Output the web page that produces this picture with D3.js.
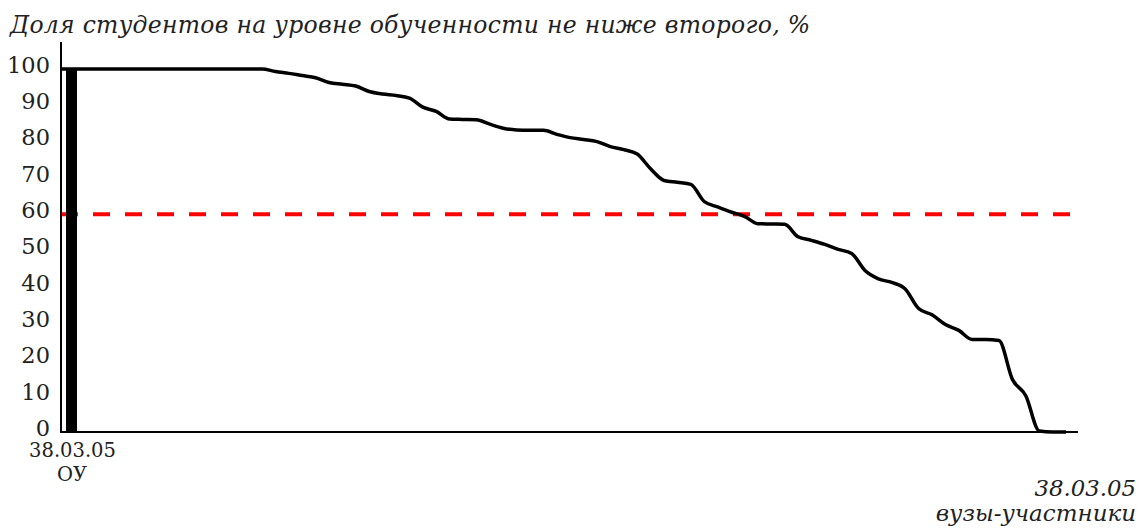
<!DOCTYPE html>
<html>
<head>
<meta charset="utf-8">
<script src="https://cdn.jsdelivr.net/npm/d3@7"></script>
<style>
  html, body { margin: 0; padding: 0; background: #fff; }
  svg { display: block; }
  text { font-family: "DejaVu Serif"; fill: #222; }
</style>
</head>
<body>
<svg id="chart" width="1139" height="530"></svg>
<script>
// ---- data ----
const titleText = "Доля студентов на уровне обученности не ниже второго, %";
const barCategories = ["ОУ"];
const barValues = [100];
const threshold = 60;
const yTicks = [0, 10, 20, 30, 40, 50, 60, 70, 80, 90, 100];
const leftLabel = ["38.03.05", "ОУ"];
const rightLabel = ["38.03.05", "вузы-участники"];
// sorted share per participating university (index order)
const universityValues = [
  100, 100, 100, 100, 100, 100, 100, 100, 100, 100,
  100, 100, 100, 100, 100, 100, 99.3, 98.8, 98.2, 97.6,
  96.3, 95.8, 95.3, 93.8, 93.1, 92.7, 92.0, 89.5, 88.3, 86.2,
  86.1, 86.0, 84.8, 83.7, 83.2, 83.1, 83.1, 82.0, 81.1, 80.6,
  80.0, 78.6, 77.8, 76.6, 72.5, 69.3, 68.8, 68.2, 63.5, 62.0,
  60.6, 59.4, 57.4, 57.3, 57.2, 53.8, 52.8, 51.7, 50.3, 49.2,
  44.5, 42.2, 41.2, 39.4, 34.0, 32.3, 29.6, 28.0, 25.5, 25.5,
  25.2, 14.5, 10.0, 0.3, 0, 0
];

// ---- layout ----
const svg = d3.select("#chart");
const axisX = 61, axisBottom = 432, axisTop = 42, axisRight = 1078;

const y = d3.scaleLinear().domain([0, 100]).range([axisBottom, 69]);
const x = d3.scaleLinear().domain([0, universityValues.length - 1]).range([axisX, 1066]);
const xBar = d3.scaleBand().domain(barCategories).range([66, 77]).padding(0);

// title
svg.append("text")
  .attr("x", 10).attr("y", 33)
  .style("font-family", '"DejaVu Serif"')
  .style("font-style", "italic")
  .style("font-size", "23.5px")
  .attr("textLength", 800)
  .attr("lengthAdjust", "spacing")
  .text(titleText);

// threshold line
svg.append("line")
  .attr("x1", axisX).attr("x2", 1072)
  .attr("y1", y(threshold)).attr("y2", y(threshold))
  .attr("stroke", "#ff0000").attr("stroke-width", 4)
  .attr("stroke-dasharray", "17,15");

// curve
const line = d3.line()
  .x((d, i) => x(i))
  .y(d => y(d))
  .curve(d3.curveMonotoneX);
svg.append("path")
  .datum(universityValues)
  .attr("d", line)
  .attr("fill", "none")
  .attr("stroke", "#000")
  .attr("stroke-width", 3.5)
  .attr("stroke-linejoin", "round");

// bar
svg.selectAll("rect.bar").data(barValues).enter().append("rect")
  .attr("class", "bar")
  .attr("x", (d, i) => xBar(barCategories[i]))
  .attr("width", xBar.bandwidth())
  .attr("y", d => y(d))
  .attr("height", d => y(0) - y(d))
  .attr("fill", "#000");

// axes lines
svg.append("line")
  .attr("x1", axisX).attr("x2", axisX)
  .attr("y1", axisTop).attr("y2", axisBottom)
  .attr("stroke", "#000").attr("stroke-width", 2);
svg.append("line")
  .attr("x1", axisX - 1).attr("x2", axisRight)
  .attr("y1", axisBottom).attr("y2", axisBottom)
  .attr("stroke", "#000").attr("stroke-width", 2);

// y ticks via d3 axis
const yAxis = d3.axisLeft(y).tickValues(yTicks).tickSize(0).tickPadding(0);
const gy = svg.append("g").attr("transform", `translate(50,0)`).call(yAxis);
gy.select(".domain").remove();
gy.selectAll("text")
  .style("font-family", '"DejaVu Serif"')
  .style("font-size", "22.5px")
  .attr("fill", "#222")
  .attr("dy", "0.15em");

// bottom-left label
svg.append("text")
  .attr("x", 72.5).attr("y", 457)
  .attr("text-anchor", "middle")
  .style("font-size", "19.5px")
  .text(leftLabel[0]);
svg.append("text")
  .attr("x", 72).attr("y", 481)
  .attr("text-anchor", "middle")
  .style("font-size", "19.5px")
  .text(leftLabel[1]);

// bottom-right label
svg.append("text")
  .attr("x", 1136).attr("y", 496)
  .attr("text-anchor", "end")
  .style("font-style", "italic")
  .style("font-size", "22.8px")
  .text(rightLabel[0]);
svg.append("text")
  .attr("x", 1136).attr("y", 521)
  .attr("text-anchor", "end")
  .style("font-style", "italic")
  .style("font-size", "23px")
  .text(rightLabel[1]);
</script>
</body>
</html>
